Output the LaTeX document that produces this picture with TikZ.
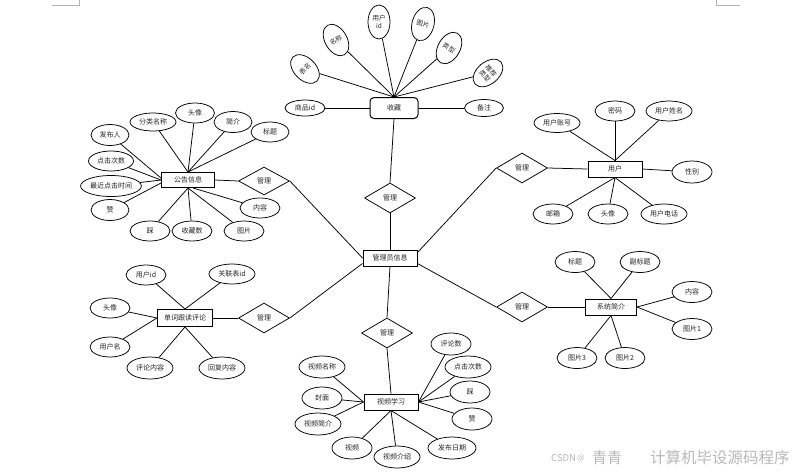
\documentclass[tikz,border=0pt]{standalone}
\usepackage{fontspec}
\setmainfont{Noto Sans CJK SC}
\usetikzlibrary{shapes.geometric}
\begin{document}
\begin{tikzpicture}[x=1pt,y=1pt,
  every node/.style={text=black!85},
  attr/.style={ellipse,draw=black,line width=0.75pt,inner sep=0.5pt,minimum width=40pt,minimum height=21pt,font=\fontsize{7}{8}\selectfont},
  fan/.style={ellipse,draw=black,line width=0.75pt,inner sep=0.5pt,minimum width=22pt,minimum height=34pt,font=\fontsize{6.5}{8}\selectfont,align=center},
  ent/.style={rectangle,draw=black,line width=1pt,inner sep=0pt,minimum width=54pt,minimum height=16pt,font=\fontsize{7}{8}\selectfont},
  rel/.style={diamond,draw=black,line width=0.75pt,inner sep=0pt,minimum width=51pt,minimum height=30pt,font=\fontsize{7}{8}\selectfont},
  conn/.style={line width=0.75pt},
  cornermark/.style={draw=gray!60,line width=0.8pt},
  wm/.style={text=gray!55,inner sep=0pt,anchor=west}]
\useasboundingbox (0,0) rectangle (801,-475);
\fill[white] (0,0) rectangle (801,-475);

% corner marks
\draw[cornermark] (52,-5) -- (79,-5) -- (79,0);
\draw[cornermark] (716,0) -- (716,-5) -- (740,-5);

% entities
\node[ent] (ad) at (390,-258) {管理员信息};
\node[ent,rounded corners=4pt,minimum width=48pt,minimum height=21pt] (sc) at (394,-108) {收藏};
\node[ent,minimum width=53pt,minimum height=15pt] (gg) at (188,-180) {公告信息};
\node[ent] (yh) at (615,-169) {用户};
\node[ent,minimum width=55pt,minimum height=17pt] (dc) at (185,-318) {单词跟读评论};
\node[ent,minimum width=51pt] (xt) at (611,-307) {系统简介};
\node[ent] (sp) at (391,-402) {视频学习};

% relationships
\node[rel] (m1) at (390,-198) {管理};
\node[rel,minimum height=28pt] (m2) at (264,-181) {管理};
\node[rel] (m3) at (522,-168) {管理};
\node[rel] (m4) at (264,-318) {管理};
\node[rel] (m5) at (522,-307) {管理};
\node[rel] (m6) at (387,-333) {管理};

% main connectors
\draw[conn] (sc.south) -- (m1.north);
\draw[conn] (m1.south) -- (ad.north);
\draw[conn] (m2.west) -- (gg.east);
\draw[conn] (m2.east) -- (ad.west);
\draw[conn] (ad.north east) ++(0,-3) coordinate (adne) (adne) -- (m3.west);
\draw[conn] (m3.east) -- (yh.west);
\draw[conn] (ad.south east) ++(0,3) coordinate (adse) (adse) -- (m5.west);
\draw[conn] (m5.east) -- (xt.west);
\draw[conn] (ad.south west) ++(0,3) coordinate (adsw) (adsw) -- (m4.east);
\draw[conn] (m4.west) -- (dc.east);
\draw[conn] (ad.south) -- (m6.north);
\draw[conn] (m6.south) -- (sp.north);

% 收藏 attributes
\node[attr,minimum width=40pt,minimum height=16pt] (sc0) at (305,-108) {商品id};
\node[attr,minimum width=39pt,minimum height=17pt] (sc9) at (484,-108) {备注};
\node[fan,rotate=45] (sc1) at (305,-69) {表名};
\node[fan,rotate=30] (sc2) at (336,-40) {名称};
\node[fan] (sc3) at (379,-22) {用户\\id};
\node[fan,rotate=-15] (sc4) at (423,-24) {图片};
\node[fan,rotate=-30] (sc5) at (449,-48) {类型};
\node[fan,rotate=-50] (sc6) at (488,-73) {推荐\\类型};
\draw[conn] (sc0) -- (sc.west);
\draw[conn] (sc9) -- (sc.east);
\foreach \n in {sc1,sc2,sc3,sc4,sc5,sc6} \draw[conn] (\n) -- (sc.north);

% 公告信息 attributes
\node[attr,minimum width=46pt,minimum height=18pt] (g1) at (153,-122) {分类名称};
\node[attr,minimum width=39pt,minimum height=20pt] (g2) at (195,-113) {头像};
\node[attr,minimum width=38pt] (g3) at (233,-122) {简介};
\node[attr,minimum width=38pt,minimum height=20pt] (g4) at (270,-132) {标题};
\node[attr,minimum width=38pt] (g5) at (110,-135) {发布人};
\node[attr,minimum width=45pt,minimum height=20pt] (g6) at (111,-161) {点击次数};
\node[attr] (g7) at (111,-186) {最近点击时间};
\node[attr,minimum width=38pt] (g8) at (110,-210) {赞};
\node[attr,minimum height=20pt] (g9) at (150,-231) {踩};
\node[attr,minimum height=20pt] (g10) at (192,-231) {收藏数};
\node[attr,minimum height=20pt] (g11) at (244,-231) {图片};
\node[attr,minimum height=20pt] (g12) at (260,-208) {内容};
\foreach \n in {g1,g2,g3,g4} \draw[conn] (\n) -- (gg.north);
\draw[conn] (g5) -- ([yshift=2pt]gg.west);
\foreach \n in {g6,g7} \draw[conn] (\n) -- (gg.west);
\draw[conn] (g8) -- ([yshift=-3pt]gg.west);
\foreach \n in {g9,g10,g11} \draw[conn] (\n) -- (gg.south);
\draw[conn] (g12) -- ([xshift=5pt]gg.south);

% 用户 attributes
\node[attr,minimum width=46pt,minimum height=19pt] (y1) at (557,-123) {用户账号};
\node[attr,minimum height=20pt] (y2) at (615,-111) {密码};
\node[attr,minimum width=46pt,minimum height=20pt] (y3) at (669,-111) {用户姓名};
\node[attr,minimum height=22pt] (y4) at (692,-172) {性别};
\node[attr,minimum width=46pt,minimum height=20pt] (y5) at (664,-214) {用户电话};
\node[attr,minimum height=20pt] (y6) at (608,-214) {头像};
\node[attr,minimum height=20pt] (y7) at (553,-214) {邮箱};
\foreach \n in {y1,y2,y3} \draw[conn] (\n) -- (yh.north);
\draw[conn] (y4) -- (yh.east);
\foreach \n in {y5,y6,y7} \draw[conn] (\n) -- (yh.south);

% 单词跟读评论 attributes
\node[attr,minimum height=20pt] (d1) at (146,-275) {用户id};
\node[attr,minimum width=46pt,minimum height=20pt] (d2) at (232,-274) {关联表id};
\node[attr,minimum height=20pt] (d3) at (110,-308) {头像};
\node[attr,minimum height=20pt] (d4) at (110,-347) {用户名};
\node[attr,minimum width=46pt,minimum height=22pt] (d5) at (150,-368) {评论内容};
\node[attr,minimum width=46pt,minimum height=22pt] (d6) at (222,-368) {回复内容};
\foreach \n in {d1,d2} \draw[conn] (\n) -- (dc.north);
\foreach \n in {d3,d4} \draw[conn] (\n) -- (dc.west);
\foreach \n in {d5,d6} \draw[conn] (\n) -- (dc.south);

% 系统简介 attributes
\node[attr] (x1) at (575,-262) {标题};
\node[attr] (x2) at (640,-262) {副标题};
\node[attr] (x3) at (692,-292) {内容};
\node[attr] (x4) at (692,-329) {图片1};
\node[attr] (x5) at (577,-358) {图片3};
\node[attr] (x6) at (625,-358) {图片2};
\foreach \n in {x1,x2} \draw[conn] (\n) -- (xt.north);
\foreach \n in {x3,x4} \draw[conn] (\n) -- (xt.east);
\foreach \n in {x5,x6} \draw[conn] (\n) -- (xt.south);

% 视频学习 attributes
\node[attr,minimum height=22pt] (v1) at (451,-344) {评论数};
\node[attr,minimum width=46pt,minimum height=22pt] (v2) at (468,-367) {点击次数};
\node[attr,minimum height=22pt] (v3) at (470,-392) {踩};
\node[attr,minimum height=22pt] (v4) at (472,-419) {赞};
\node[attr,minimum width=48pt,minimum height=22pt] (v5) at (452,-448) {发布日期};
\node[attr,minimum width=46pt,minimum height=22pt] (v6) at (397,-457) {视频介绍};
\node[attr,minimum height=22pt] (v7) at (352,-448) {视频};
\node[attr,minimum width=46pt,minimum height=22pt] (v8) at (318,-424) {视频简介};
\node[attr,minimum height=22pt] (v9) at (322,-398) {封面};
\node[attr,minimum width=46pt,minimum height=22pt] (v10) at (322,-367) {视频名称};
\foreach \n in {v1,v2,v3,v4} \draw[conn] (\n) -- (sp.east);
\foreach \n in {v5,v6,v7} \draw[conn] (\n) -- (sp.south);
\foreach \n in {v8,v9,v10} \draw[conn] (\n) -- (sp.west);

% watermark
\node[wm,font=\fontsize{9.5}{11}\selectfont] (w1) at (551,-458) {CSDN};
\node[wm,font=\fontsize{8}{10}\selectfont] (w2) at (577,-458) {@};
\node[wm,font=\fontsize{15}{16}\selectfont] (w3) at (592,-458) {青青};
\node[wm,font=\fontsize{15.5}{16}\selectfont] (w4) at (650,-458) {计算机毕设源码程序};
\end{tikzpicture}
\end{document}
